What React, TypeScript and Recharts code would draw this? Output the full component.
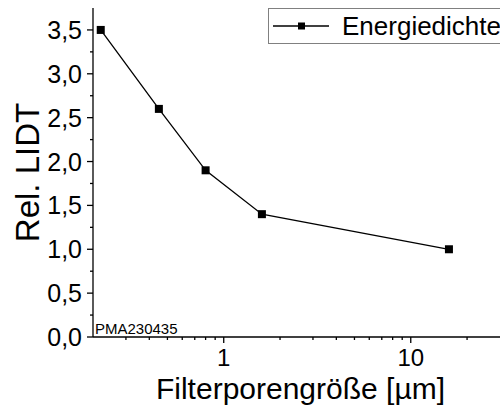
import { LineChart, Line, XAxis, YAxis, Legend, Customized } from 'recharts';

// Filter pore size [µm] vs. relative LIDT
const poreSizes = [0.22, 0.45, 0.8, 1.6, 16];
const relLidt = [3.5, 2.6, 1.9, 1.4, 1.0];

const xMajorTicks = [1, 10];
const xMinorTicks = [0.3, 0.4, 0.5, 0.6, 0.7, 0.8, 0.9, 2, 3, 4, 5, 6, 7, 8, 9, 20];
const yMajorTicks = [0, 0.5, 1, 1.5, 2, 2.5, 3, 3.5];
const yMinorTicks = [0.25, 0.75, 1.25, 1.75, 2.25, 2.75, 3.25];

const seriesName = 'Energiedichte';
const sampleId = 'PMA230435';

const FONT = '"Liberation Sans", Arial, sans-serif';
const W = 500;
const H = 405;

const data = poreSizes.map((pore, i) => ({ pore, lidt: relLidt[i] }));
const xTicks = [...xMajorTicks, ...xMinorTicks].sort((a, b) => a - b);
const yTicks = [...yMajorTicks, ...yMinorTicks].sort((a, b) => a - b);

const fmtY = (v: number) => v.toFixed(1).replace('.', ',');

// ticks are drawn by hand so majors/minors can have different lengths
const XTick = (props: any) => {
  const { x, y, payload, labelled } = props;
  const major = xMajorTicks.includes(payload.value);
  const len = major ? 6 : 3;
  return (
    <g>
      <line x1={x} x2={x} y1={y} y2={y + len} stroke="#000" strokeWidth={1.3} />
      {labelled && major && (
        <text x={x} y={y + 29} textAnchor="middle" fontSize={24} fontFamily={FONT} fill="#000">
          {payload.value}
        </text>
      )}
    </g>
  );
};

const YTick = (props: any) => {
  const { x, y, payload, labelled } = props;
  const major = yMajorTicks.includes(payload.value);
  const len = major ? 6 : 3;
  return (
    <g>
      <line x1={x - len} x2={x} y1={y} y2={y} stroke="#000" strokeWidth={1.3} />
      {labelled && major && (
        <text x={x - len - 5} y={y} dy="0.36em" textAnchor="end" fontSize={25} fontFamily={FONT} fill="#000">
          {fmtY(payload.value)}
        </text>
      )}
    </g>
  );
};

const SquareDot = (props: any) => {
  const { cx, cy } = props;
  if (cx == null || cy == null) return null;
  return <rect x={cx - 4} y={cy - 4} width={8} height={8} fill="#000" />;
};

const renderLegend = (props: any) => {
  const item = props.payload?.[0];
  return (
    <div
      style={{
        display: 'flex',
        alignItems: 'center',
        boxSizing: 'border-box',
        height: 36,
        width: 250,
        border: '1px solid #808080',
        background: '#fff',
      }}
    >
      <svg width={64} height={12} style={{ marginLeft: 3, flex: 'none' }}>
        <line x1={1} x2={57} y1={6} y2={6} stroke="#000" strokeWidth={1.3} />
        <rect x={26} y={2.5} width={7} height={7} fill="#000" />
      </svg>
      <span style={{ fontFamily: FONT, fontSize: 26, color: '#000', whiteSpace: 'nowrap', marginLeft: 6 }}>
        {item ? item.value : seriesName}
      </span>
    </div>
  );
};

const SampleTag = () => (
  <text x={95} y={334} fontSize={15} fontFamily={FONT} fill="#000">
    {sampleId}
  </text>
);

export default function App() {
  return (
    <div style={{ position: 'absolute', left: 0, top: 0, width: W, height: H, overflow: 'hidden', background: '#fff' }}>
      <LineChart width={W} height={H} data={data} margin={{ top: 8, right: 0, bottom: 0, left: 0 }}>
        <XAxis
          xAxisId="bottom"
          dataKey="pore"
          type="number"
          scale="log"
          domain={[0.2, 30]}
          allowDataOverflow
          ticks={xTicks}
          interval={0}
          height={68}
          tickSize={0}
          tickMargin={0}
          tickLine={false}
          axisLine={{ stroke: '#000', strokeWidth: 1.3 }}
          tick={<XTick labelled />}
          label={{
            value: 'Filterporengröße [µm]',
            position: 'insideBottom',
            offset: 6.5,
            dx: 4,
            fontSize: 30,
            fontFamily: FONT,
            fill: '#000',
          }}
        />
        <XAxis
          xAxisId="top"
          orientation="top"
          dataKey="pore"
          type="number"
          scale="log"
          domain={[0.2, 30]}
          allowDataOverflow
          ticks={xTicks}
          interval={0}
          height={0}
          tickSize={0}
          tickMargin={0}
          tickLine={false}
          axisLine={{ stroke: '#000', strokeWidth: 1.3 }}
          tick={<XTick />}
        />
        <YAxis
          yAxisId="left"
          type="number"
          domain={[0, 3.75]}
          allowDataOverflow
          ticks={yTicks}
          interval={0}
          width={93}
          tickSize={0}
          tickMargin={0}
          tickLine={false}
          axisLine={{ stroke: '#000', strokeWidth: 1.3 }}
          tick={<YTick labelled />}
          label={(p: any) => {
            const vb = p.viewBox || { x: 0, y: 8, width: 93, height: 329 };
            const cx = 27;
            const cy = vb.y + vb.height / 2;
            return (
              <text
                x={cx}
                y={cy}
                transform={`rotate(-90 ${cx} ${cy})`}
                textAnchor="middle"
                dy="0.36em"
                fontSize={33}
                fontFamily={FONT}
                fill="#000"
              >
                Rel. LIDT
              </text>
            );
          }}
        />
        <YAxis
          yAxisId="right"
          orientation="right"
          type="number"
          domain={[0, 3.75]}
          allowDataOverflow
          ticks={yTicks}
          interval={0}
          width={0}
          tickSize={0}
          tickMargin={0}
          tickLine={false}
          axisLine={false}
          tick={<YTick />}
        />
        <Legend
          content={renderLegend}
          layout="horizontal"
          verticalAlign="middle"
          align="center"
          wrapperStyle={{ left: 268, top: 8, width: 250, height: 36 }}
        />
        <Line
          xAxisId="bottom"
          yAxisId="left"
          dataKey="lidt"
          name={seriesName}
          stroke="#000"
          strokeWidth={1.3}
          dot={<SquareDot />}
          activeDot={false}
          isAnimationActive={false}
        />
        <Customized component={SampleTag} />
      </LineChart>
    </div>
  );
}
